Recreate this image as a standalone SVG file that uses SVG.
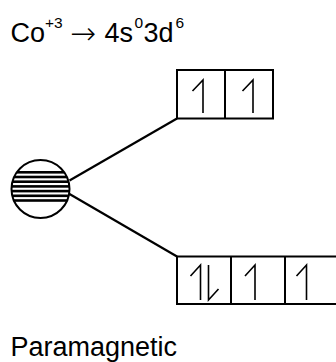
<svg xmlns="http://www.w3.org/2000/svg" width="336" height="362" viewBox="0 0 336 362">
<style>
.t{font-family:"Liberation Sans",Arial,sans-serif;fill:#000}
.big{font-size:27px}
.sup{font-size:15.5px}
.arr{font-family:"DejaVu Sans",sans-serif;font-size:31px;font-weight:200;fill:#000}
.box{fill:none;stroke:#000;stroke-width:2}
.hp{fill:none;stroke:#000;stroke-width:1.6;stroke-linejoin:miter}
.con{fill:none;stroke:#000;stroke-width:2.2}
</style>
<defs>
<clipPath id="cc"><circle cx="40.5" cy="189" r="29"/></clipPath>
</defs>
<rect width="336" height="362" fill="#fff"/>
<g id="formula">
<text class="t big" x="10.5" y="41.5">Co</text>
<text class="t sup" x="45" y="27.5">+3</text>
<text class="arr" x="70" y="43.5">→</text>
<text class="t big" x="104.5" y="41.5">4s</text>
<text class="t sup" x="134.5" y="27.5">0</text>
<text class="t big" x="143.5" y="41.5">3d</text>
<text class="t sup" x="175.5" y="27.5">6</text>
</g>
<g id="atom">
<g clip-path="url(#cc)" fill="#000">
<rect x="8" y="171" width="66" height="2.6"/>
<rect x="8" y="175.7" width="66" height="2.6"/>
<rect x="8" y="180.4" width="66" height="2.6"/>
<rect x="8" y="185.1" width="66" height="2.6"/>
<rect x="8" y="189.8" width="66" height="2.6"/>
<rect x="8" y="194.5" width="66" height="2.6"/>
<rect x="8" y="199.2" width="66" height="2.6"/>
</g>
<circle cx="40.5" cy="189" r="29" fill="none" stroke="#000" stroke-width="2"/>
</g>
<g id="connectors">
<line class="con" x1="69.5" y1="180.5" x2="177" y2="118.5"/>
<line class="con" x1="69.5" y1="194" x2="177" y2="256.5"/>
</g>
<g id="eg">
<rect class="box" x="177" y="70" width="96" height="48.5"/>
<line class="box" x1="225" y1="70" x2="225" y2="118.5"/>
<path class="hp" d="M203,113 V80 L192.5,91"/>
<path class="hp" d="M253,113 V80 L242.5,91"/>
</g>
<g id="t2g">
<rect class="box" x="177" y="256.5" width="170" height="47.5"/>
<line class="box" x1="231" y1="256.5" x2="231" y2="304"/>
<line class="box" x1="285" y1="256.5" x2="285" y2="304"/>
<path class="hp" d="M200.5,300 V265 L190.5,276"/>
<path class="hp" d="M208.5,265 V300 L218.5,289"/>
<path class="hp" d="M255,300 V265 L245,276"/>
<path class="hp" d="M306.5,300 V265 L296.5,276"/>
</g>
<g id="label">
<text class="t big" x="10.5" y="355.7">Paramagnetic</text>
</g>
</svg>
